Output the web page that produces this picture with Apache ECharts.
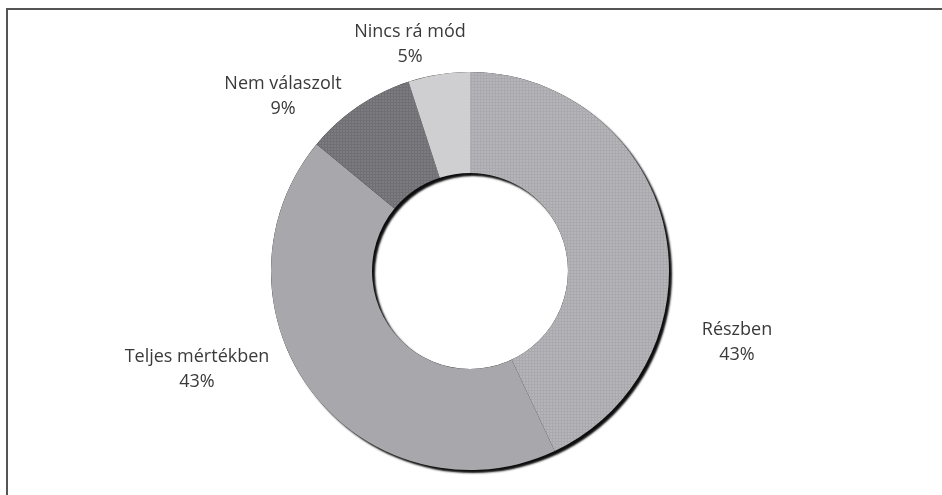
<!DOCTYPE html>
<html>
<head>
<meta charset="utf-8">
<script src="https://cdn.jsdelivr.net/npm/echarts@6/dist/echarts.min.js"></script>
<style>
  html, body { margin: 0; padding: 0; background: #ffffff; }
  #chart { width: 942px; height: 495px; }
</style>
</head>
<body>
<div id="chart"></div>
<script>
// Answer categories and their shares (%)
const categories = ['Részben', 'Teljes mértékben', 'Nem válaszolt', 'Nincs rá mód'];
const shares = [43, 43, 9, 5];

// Where each two-line label sits (centre of the text block, px)
const labelSpots = [[737, 342], [197, 369], [283, 96], [410, 44]];

// Small tiled grid texture used for the hatched slices
function gridPattern(base, line) {
  const c = document.createElement('canvas');
  c.width = 3; c.height = 3;
  const g = c.getContext('2d');
  g.fillStyle = base; g.fillRect(0, 0, 3, 3);
  g.fillStyle = line; g.fillRect(0, 0, 3, 1); g.fillRect(0, 0, 1, 3);
  return { image: c, repeat: 'repeat' };
}

const sliceFills = [
  gridPattern('#b5b5b9', '#aaaaae'),
  '#a8a8ac',
  gridPattern('#7c7c80', '#707074'),
  '#cfcfd1'
];

const total = shares.reduce((a, b) => a + b, 0);
const center = [470, 271];
const radius = [98, 199];

const chart = echarts.init(document.getElementById('chart'), null, { renderer: 'canvas' });
chart.setOption({
  backgroundColor: '#ffffff',
  animation: false,
  graphic: [{
    type: 'rect',
    shape: { x: 7, y: 9, width: 1000, height: 600 },
    style: { fill: 'none', stroke: '#555555', lineWidth: 2 },
    z: -10
  }],
  series: [
    {
      // dark drop shadow under the whole ring
      type: 'pie',
      silent: true,
      center: center,
      radius: radius,
      z: 1,
      label: { show: false },
      labelLine: { show: false },
      itemStyle: {
        color: '#1a1a1a',
        shadowColor: 'rgba(0,0,0,0.95)',
        shadowBlur: 2,
        shadowOffsetX: 3,
        shadowOffsetY: 3
      },
      data: [{ value: total, name: '' }]
    },
    {
      type: 'pie',
      center: center,
      radius: radius,
      startAngle: 90,
      clockwise: true,
      z: 2,
      itemStyle: { borderWidth: 0 },
      label: {
        show: true,
        position: 'outside',
        formatter: '{b}\n{c}%',
        fontFamily: '"Open Sans", sans-serif',
        fontSize: 18,
        lineHeight: 25,
        color: '#3a3a3a',
        align: 'center'
      },
      labelLine: { show: false },
      labelLayout: function (params) {
        const p = labelSpots[params.dataIndex];
        return { x: p[0], y: p[1], align: 'center', verticalAlign: 'middle', hideOverlap: false };
      },
      data: categories.map((name, i) => ({
        name: name,
        value: shares[i],
        itemStyle: { color: sliceFills[i] }
      }))
    }
  ]
});
</script>
</body>
</html>
